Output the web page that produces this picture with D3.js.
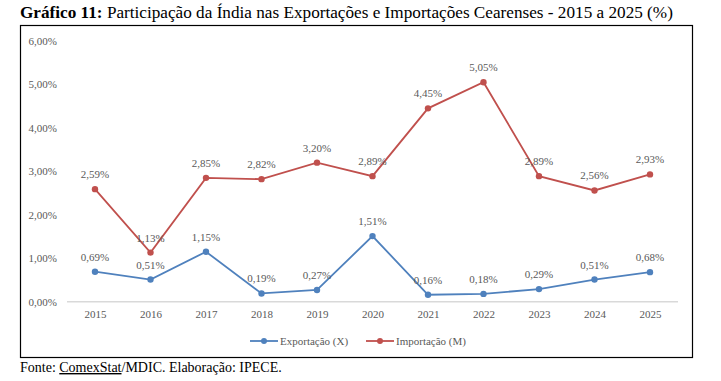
<!DOCTYPE html>
<html><head><meta charset="utf-8">
<script src="https://cdn.jsdelivr.net/npm/d3@7"></script>
<style>body{margin:0;background:#fff}svg{display:block}
text{font-family:"Liberation Serif","Times New Roman",serif}</style>
</head><body>
<svg id="c" width="721" height="381"></svg>
<script>
const years = ["2015","2016","2017","2018","2019","2020","2021","2022","2023","2024","2025"];
const exportacao = [0.69,0.51,1.15,0.19,0.27,1.51,0.16,0.18,0.29,0.51,0.68];
const importacao = [2.59,1.13,2.85,2.82,3.20,2.89,4.45,5.05,2.89,2.56,2.93];
const yTicks = [0,1,2,3,4,5,6];
const seriesNames = ["Exportação (X)","Importação (M)"];
const colors = ["#4F81BD","#C0504D"];

const svg = d3.select("#c");
const fmt = v => v.toFixed(2).replace(".", ",") + "%";

// title
const t = svg.append("text").attr("x",20).attr("y",18).attr("font-size",17.2).attr("fill","#000");
t.append("tspan").attr("font-weight","bold").text("Gráfico 11:");
t.append("tspan").text(" Participação da Índia nas Exportações e Importações Cearenses - 2015 a 2025 (%)");

// frame
svg.append("rect").attr("x",20.5).attr("y",25.5).attr("width",672).attr("height",332)
  .attr("fill","none").attr("stroke","#000").attr("stroke-width",1.2);

const x = d3.scalePoint().domain(years).range([95,650]);
const y = d3.scaleLinear().domain([0,6]).range([301.7,41]);

// y axis labels
const yAxis = d3.axisLeft(y).tickValues(yTicks).tickFormat(fmt).tickSize(0).tickPadding(0);
const ga = svg.append("g").attr("transform","translate(57,0)").call(yAxis);
ga.select(".domain").remove();
ga.attr("font-family",null);
ga.selectAll("text").attr("font-size",11).attr("fill","#595959");

// baseline
svg.append("line").attr("x1",67).attr("x2",678).attr("y1",y(0)).attr("y2",y(0)).attr("stroke","#D9D9D9").attr("stroke-width",1.5);

// x axis labels
const xAxis = d3.axisBottom(x).tickSize(0).tickPadding(9);
const gx = svg.append("g").attr("transform",`translate(0,${y(0)})`).call(xAxis);
gx.select(".domain").remove();
gx.attr("font-family",null);
gx.selectAll("text").attr("font-size",11).attr("fill","#595959");

const line = d3.line().x((d,i)=>x(years[i])).y(d=>y(d));
[exportacao, importacao].forEach((data,si)=>{
  svg.append("path").datum(data).attr("d",line).attr("fill","none").attr("stroke",colors[si]).attr("stroke-width",1.8);
  svg.selectAll(null).data(data).enter().append("circle")
    .attr("cx",(d,i)=>x(years[i])).attr("cy",d=>y(d)).attr("r",3.2).attr("fill",colors[si]);
  svg.selectAll(null).data(data).enter().append("text")
    .attr("x",(d,i)=>x(years[i])).attr("y",d=>y(d)-11)
    .attr("text-anchor","middle").attr("font-size",11).attr("fill","#595959")
    .text(fmt);
});

// legend
const legX = [250,366];
seriesNames.forEach((n,i)=>{
  const g = svg.append("g").attr("transform",`translate(${legX[i]},341)`);
  g.append("line").attr("x1",0).attr("x2",28).attr("stroke",colors[i]).attr("stroke-width",1.8);
  g.append("circle").attr("cx",14).attr("r",3).attr("fill",colors[i]);
  g.append("text").attr("x",30).attr("y",4).attr("font-size",11).attr("fill","#595959").text(n);
});

// footer
const f = svg.append("text").attr("x",20).attr("y",372).attr("font-size",14).attr("fill","#000");
f.append("tspan").text("Fonte: ");
f.append("tspan").attr("text-decoration","underline").text("ComexStat");
f.append("tspan").text("/MDIC. Elaboração: IPECE.");
</script>
</body></html>
